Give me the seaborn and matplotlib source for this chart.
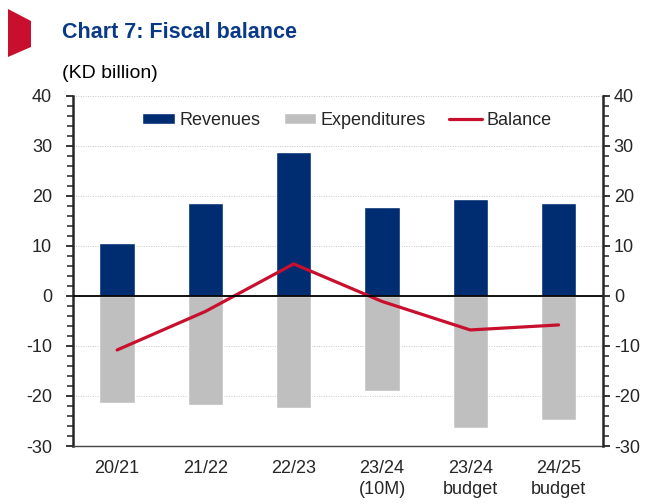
import numpy as np
import pandas as pd
import matplotlib
matplotlib.use("Agg")
import matplotlib.pyplot as plt
from matplotlib.patches import Patch, Polygon
from matplotlib.lines import Line2D
from matplotlib.ticker import MultipleLocator
import seaborn as sns

categories = ["20/21", "21/22", "22/23", "23/24\n(10M)", "23/24\nbudget", "24/25\nbudget"]
revenues = [10.6, 18.6, 28.8, 17.8, 19.4, 18.6]
expenditures = [-21.4, -21.7, -22.4, -19.0, -26.4, -24.7]
balance = [-10.8, -3.1, 6.4, -1.1, -6.8, -5.8]

NAVY = "#002D72"
GREY = "#BFBFBF"
RED = "#C8102E"

sns.set_style("white")
plt.rcParams["font.family"] = ["Liberation Sans", "DejaVu Sans"]
plt.rcParams["axes.unicode_minus"] = False

df = pd.DataFrame({"cat": categories, "rev": revenues, "exp": expenditures, "bal": balance})

fig = plt.figure(figsize=(6.46, 5.04), dpi=100)
ax = fig.add_axes([0.113, 0.115, 0.82, 0.695])

sns.barplot(data=df, x="cat", y="rev", color=NAVY, width=0.4, saturation=1, ax=ax, zorder=3)
sns.barplot(data=df, x="cat", y="exp", color=GREY, width=0.4, saturation=1, ax=ax, zorder=3)
sns.lineplot(x=np.arange(len(categories)), y=df["bal"], color=RED, linewidth=2.3, ax=ax, zorder=4)

ax.set_xlim(-0.5, len(categories) - 0.5)
ax.set_ylim(-30, 40)
ax.set_xlabel("")
ax.set_ylabel("")
ax.yaxis.set_major_locator(MultipleLocator(10))
ax.yaxis.set_minor_locator(MultipleLocator(2))
ax.grid(axis="y", which="major", color="#C8C8C8", linestyle=(0, (1, 1.5)), linewidth=0.7, zorder=0)
ax.axhline(0, color="black", linewidth=1.3, zorder=5)

for s in ["top", "right"]:
    ax.spines[s].set_visible(False)
ax.spines["left"].set_linewidth(1.8)
ax.spines["bottom"].set_linewidth(1.0)
ax.spines["bottom"].set_color("#444444")
ax.tick_params(axis="y", which="major", direction="out", length=5, width=1.3, labelsize=13, pad=10)
ax.tick_params(axis="y", which="minor", direction="out", length=4, width=1.1)
ax.tick_params(axis="x", length=0, labelsize=13, pad=10)
for lbl in ax.get_xticklabels():
    lbl.set_verticalalignment("top")
    lbl.set_linespacing(1.3)

ax2 = ax.twinx()
ax2.set_ylim(-30, 40)
ax2.yaxis.set_major_locator(MultipleLocator(10))
ax2.yaxis.set_minor_locator(MultipleLocator(2))
for s in ["top", "left", "bottom"]:
    ax2.spines[s].set_visible(False)
ax2.spines["right"].set_linewidth(1.8)
ax2.tick_params(axis="y", which="major", direction="out", length=5, width=1.3, labelsize=13, pad=3)
ax2.tick_params(axis="y", which="minor", direction="out", length=4, width=1.1)

handles = [Patch(facecolor=NAVY, label="Revenues"),
           Patch(facecolor=GREY, label="Expenditures"),
           Line2D([0], [0], color=RED, linewidth=2.3, label="Balance")]
ax.legend(handles=handles, loc="center", bbox_to_anchor=(0.517, 0.93), ncol=3, frameon=False,
          fontsize=13, handlelength=1.8, handleheight=0.6, handletextpad=0.25, columnspacing=1.3)

fig.patches.append(Polygon([[8 / 646, 1 - 9 / 504], [31 / 646, 1 - 21 / 504],
                            [31 / 646, 1 - 47 / 504], [8 / 646, 1 - 57 / 504]],
                           closed=True, transform=fig.transFigure, facecolor=RED, edgecolor="none"))
fig.text(62 / 646, 1 - 33 / 504, "Chart 7: Fiscal balance", color="#0A3A87", fontsize=15.5,
         fontweight="bold", va="center", ha="left")
fig.text(62 / 646, 1 - 73 / 504, "(KD billion)", color="black", fontsize=14, va="center", ha="left")

fig.savefig("out.png", dpi=100)
